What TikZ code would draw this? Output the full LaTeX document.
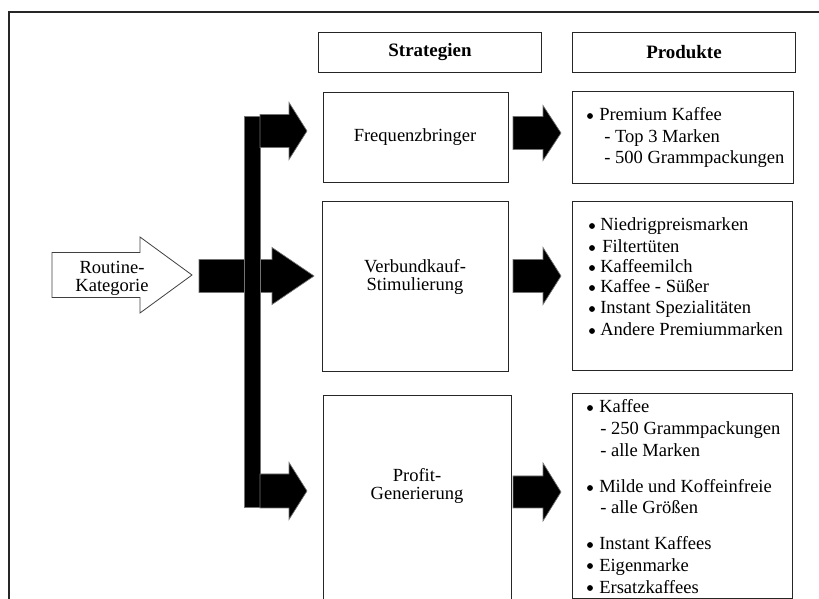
\documentclass[tikz,border=0pt]{standalone}
\usepackage{fontspec}
\setmainfont{Liberation Serif}
\newcommand{\barrow}[7][blk]{%
  \draw[#1] (#2,#5-#6) -- (#3,#5-#6) -- (#3,#5-#7) -- (#4,#5) -- (#3,#5+#7) -- (#3,#5+#6) -- (#2,#5+#6) -- cycle;}
\newcommand{\bx}[6]{\node[box, anchor=north west, minimum width=#4*0.75pt, minimum height=#5*0.75pt] (#1) at (#2,#3) {#6};}
\begin{document}
\begin{tikzpicture}[x=0.75pt,y=-0.75pt,
  box/.style={draw=black!85, line width=0.75pt, fill=white, inner sep=0pt, font=\fontsize{14.2}{16}\selectfont\bfseries},
  txt/.style={font=\fontsize{13.9}{13.7}\selectfont, inner sep=0pt},
  blk/.style={fill=black, draw=black!55, line width=0.5pt},
  wht/.style={fill=white, draw=black!75, line width=0.6pt},
  bul/.style={fill=black}]
\useasboundingbox (0,0) rectangle (819,599);
\clip (0,0) rectangle (819,599);
% outer frame
\draw[line width=1.1pt, black!85] (9,650) -- (9,12) -- (840,12);
% boxes
\bx{hs}{318}{32}{223}{40}{Strategien}
\bx{hp}{572}{32}{223}{40}{Produkte}
\bx{freq}{323}{92}{185}{90}{}
\bx{verb}{322}{201}{186}{170}{}
\bx{prof}{323}{395}{188}{240}{}
\bx{p1}{572}{91}{221}{92}{}
\bx{p2}{572}{201}{220}{169}{}
\bx{p3}{572}{393}{220}{205}{}
% strategy texts
\node[txt] (tf) at (415,137) {Frequenzbringer};
\node[txt, align=center] (tv) at (415,277) {Verbundkauf-\\Stimulierung};
\node[txt, align=center] (tp) at (417,486) {Profit-\\Generierung};
% input arrow
\barrow[wht]{52}{140}{192}{275}{22.5}{38}
\node[txt, anchor=base] (rk1) at (112,274) {Routine-};
\node[txt, anchor=base] (rk2) at (112,291.5) {Kategorie};
% black arrows
\barrow{199}{272}{314}{276}{16.5}{28.5}
\fill[blk] (244,116) rectangle (260,507);
\barrow{260}{289}{307}{131}{16.5}{28.5}
\barrow{260}{289}{307}{491}{17}{28.5}
\barrow{513}{543}{561}{133}{16.5}{27.5}
\barrow{513}{543}{561}{276}{16.5}{28.5}
\barrow{513}{543}{561}{492}{16}{29}
% product texts p1
\fill[bul] (590,116) circle (2.2pt);
\node[txt, anchor=base west] at (599,121) {Premium Kaffee};
\node[txt, anchor=base west] at (604,143) {- Top 3 Marken};
\node[txt, anchor=base west] at (604,164) {- 500 Grammpackungen};
% p2
\foreach \yy/\tt/\xx in {225/Niedrigpreismarken/600, 247/Filtert\"uten/602, 267/Kaffeemilch/600, 287/Kaffee - S\"u\ss er/600, 308/Instant Spezialit\"aten/600, 330/Andere Premiummarken/600}{
  \fill[bul] (592,\yy+1) circle (2.2pt);
  \node[txt, anchor=base west] at (\xx,\yy+6) {\tt};
}
% p3
\foreach \yy/\tt in {407/Kaffee, 487/Milde und Koffeinfreie, 544/Instant Kaffees, 565/Eigenmarke, 587/Ersatzkaffees}{
  \fill[bul] (590,\yy+1) circle (2.2pt);
  \node[txt, anchor=base west] at (599,\yy+6) {\tt};
}
\node[txt, anchor=base west] at (600,435) {- 250 Grammpackungen};
\node[txt, anchor=base west] at (600,456) {- alle Marken};
\node[txt, anchor=base west] at (600,513) {- alle Gr\"o\ss en};
\end{tikzpicture}
\end{document}
